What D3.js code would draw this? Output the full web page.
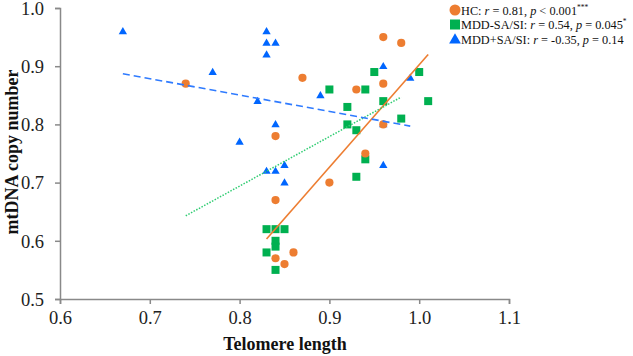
<!DOCTYPE html>
<html>
<head>
<meta charset="utf-8">
<script src="https://cdn.jsdelivr.net/npm/d3@7"></script>
<style>
  body { margin: 0; background: #fff; }
  svg, svg text { font-family: "Liberation Serif", "Times New Roman", serif; }
</style>
</head>
<body>
<div id="chart"></div>
<script>
// Data
var hcPoints = [
  [0.74, 0.87], [0.84, 0.78], [0.87, 0.88], [0.84, 0.67], [0.90, 0.70],
  [0.86, 0.58], [0.84, 0.57], [0.85, 0.56], [0.96, 0.95], [0.98, 0.94],
  [0.96, 0.87], [0.93, 0.86], [0.96, 0.80], [0.94, 0.75]
];
var mddNoPoints = [
  [0.90, 0.86], [0.95, 0.89], [1.00, 0.89], [0.94, 0.86], [0.92, 0.83],
  [0.92, 0.80], [0.96, 0.84], [1.01, 0.84], [0.93, 0.79], [0.98, 0.81],
  [0.94, 0.74], [0.93, 0.71], [0.83, 0.62], [0.84, 0.62], [0.85, 0.62],
  [0.84, 0.60], [0.84, 0.59], [0.83, 0.58], [0.84, 0.55]
];
var mddYesPoints = [
  [0.67, 0.96], [0.77, 0.89], [0.80, 0.77], [0.82, 0.84], [0.83, 0.96],
  [0.83, 0.94], [0.84, 0.94], [0.83, 0.92], [0.84, 0.80], [0.83, 0.72],
  [0.84, 0.72], [0.85, 0.73], [0.85, 0.70], [0.89, 0.85], [0.96, 0.90],
  [0.99, 0.88], [0.96, 0.80], [0.96, 0.73]
];
// trend line end points
var hcTrend = [[0.83, 0.603], [1.01, 0.920]];
var mddNoTrend = [[0.74, 0.643], [0.98, 0.847]];
var mddYesTrend = [[0.67, 0.887], [0.99, 0.797]];

var xTicks = [0.6, 0.7, 0.8, 0.9, 1.0, 1.1];
var yTicks = [0.5, 0.6, 0.7, 0.8, 0.9, 1.0];

var width = 633, height = 356;
var margin = { left: 60, right: 124, top: 8, bottom: 57 };

var svg = d3.select("#chart").append("svg")
  .attr("width", width)
  .attr("height", height);

var xScale = d3.scaleLinear().domain([0.6, 1.1]).range([margin.left, width - margin.right]);
var yScale = d3.scaleLinear().domain([0.5, 1.0]).range([height - margin.bottom, margin.top]);

var axisColor = "#898989";
var serif = "'Liberation Serif', 'Times New Roman', serif";

// Axes:
var xAxis = svg.append("g")
  .attr("transform", "translate(0," + (height - margin.bottom) + ")")
  .call(d3.axisBottom(xScale).tickValues(xTicks).tickFormat(d3.format(".1f")).tickSizeOuter(0).tickSize(5).tickPadding(7));

var yAxis = svg.append("g")
  .attr("transform", "translate(" + margin.left + ",0)")
  .call(d3.axisLeft(yScale).tickValues(yTicks).tickFormat(d3.format(".1f")).tickSizeOuter(0).tickSize(5).tickPadding(11));

[xAxis, yAxis].forEach(function(g){
  g.attr("font-family", null).attr("font-size", null);
  g.select(".domain").attr("stroke", axisColor).attr("stroke-width", 1.5);
  g.selectAll(".tick line").attr("stroke", axisColor).attr("stroke-width", 1.5);
  g.selectAll(".tick text")
    .attr("fill", "#222")
    .style("font-size", "18.5px")
    .style("font-family", serif);
});
yAxis.selectAll(".tick text").attr("dy", "0.34em");

// Axis titles:
svg.append("text")
  .attr("x", 285)
  .attr("y", 350)
  .attr("text-anchor", "middle")
  .style("font-size", "18px")
  .style("font-weight", "bold")
  .attr("fill", "#111")
  .text("Telomere length");

svg.append("text")
  .attr("transform", "translate(18,152) rotate(-90)")
  .attr("text-anchor", "middle")
  .style("font-size", "18px")
  .style("font-weight", "bold")
  .attr("fill", "#111")
  .text("mtDNA copy number");

var orange = "#ED7D31", green = "#00B050", blue = "#0066FF";

var line = d3.line()
  .x(function(d){ return xScale(d[0]); })
  .y(function(d){ return yScale(d[1]); });

// Markers:
var triangle = d3.symbol().type(d3.symbolTriangle).size(30);

svg.append("g").selectAll("path")
  .data(mddYesPoints)
  .enter()
  .append("path")
  .attr("d", triangle)
  .attr("transform", function(d){ return "translate(" + xScale(d[0]) + "," + (yScale(d[1]) + 0.5) + ")"; })
  .attr("fill", blue);

svg.append("g").selectAll("rect")
  .data(mddNoPoints)
  .enter()
  .append("rect")
  .attr("x", function(d){ return xScale(d[0]) - 4; })
  .attr("y", function(d){ return yScale(d[1]) - 4; })
  .attr("width", 8)
  .attr("height", 8)
  .attr("fill", green);

svg.append("g").selectAll("circle")
  .data(hcPoints)
  .enter()
  .append("circle")
  .attr("cx", function(d){ return xScale(d[0]); })
  .attr("cy", function(d){ return yScale(d[1]); })
  .attr("r", 4.1)
  .attr("fill", orange);

// Trend lines:
svg.append("path").datum(hcTrend)
  .attr("d", line).attr("fill", "none")
  .attr("stroke", orange).attr("stroke-width", 1.6);

svg.append("path").datum(mddNoTrend)
  .attr("d", line).attr("fill", "none")
  .attr("stroke", "#2ECC71").attr("stroke-width", 1.5)
  .attr("stroke-dasharray", "1.5,1.5");

svg.append("path").datum(mddYesTrend)
  .attr("d", line).attr("fill", "none")
  .attr("stroke", "#2F7BFF").attr("stroke-width", 1.6)
  .attr("stroke-dasharray", "7,4");

// Legend:
var legendItems = [
  { shape: "circle", color: orange, label: "HC: ", r: "0.81", pOp: " < ", p: "0.001", sig: "***" },
  { shape: "square", color: green, label: "MDD-SA/SI: ", r: "0.54", pOp: " = ", p: "0.045", sig: "*" },
  { shape: "triangle", color: blue, label: "MDD+SA/SI: ", r: "-0.35", pOp: " = ", p: "0.14", sig: "" }
];

var legend = svg.append("g").attr("transform", "translate(455,10)");

legendItems.forEach(function(item, i){
  var row = legend.append("g").attr("transform", "translate(0," + (i * 14.5) + ")");
  if (item.shape == "circle")
    row.append("circle").attr("r", 5.5).attr("fill", item.color);
  else if (item.shape == "square")
    row.append("rect").attr("x", -5).attr("y", -5).attr("width", 10).attr("height", 10).attr("fill", item.color);
  else
    row.append("path").attr("d", d3.symbol().type(d3.symbolTriangle).size(60)).attr("transform", "translate(0,1)").attr("fill", item.color);

  var t = row.append("text")
    .attr("x", 6)
    .attr("y", 4.5)
    .style("font-size", "12.3px")
    .attr("fill", "#111");
  t.append("tspan").text(item.label);
  t.append("tspan").style("font-style", "italic").text("r");
  t.append("tspan").text(" = " + item.r + ", ");
  t.append("tspan").style("font-style", "italic").text("p");
  t.append("tspan").text(item.pOp + item.p);
  if (item.sig)
    t.append("tspan").style("font-size", "7.5px").attr("dy", -5).text(item.sig);
});
</script>
</body>
</html>
